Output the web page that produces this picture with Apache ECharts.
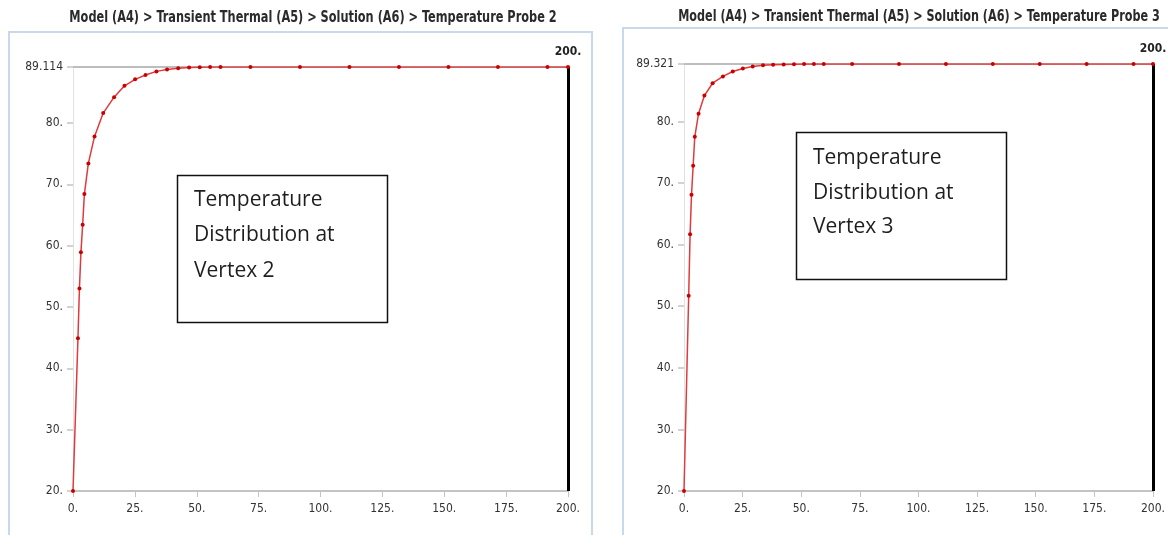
<!DOCTYPE html>
<html>
<head>
<meta charset="utf-8">
<script src="https://cdn.jsdelivr.net/npm/echarts@6/dist/echarts.min.js"></script>
<style>
html,body{margin:0;padding:0;background:#fff;}
#c{width:1168px;height:535px;}
</style>
</head>
<body>
<div id="c"></div>
<script>
// Time points (s) shared by both probes
var timeSteps = [0, 2.0, 2.6, 3.2, 3.9, 4.6, 6.2, 8.7, 12.2, 16.6, 20.8, 25.1, 29.3, 33.7, 38.0, 42.5, 46.9, 51.2, 55.4, 59.6, 71.7, 91.7, 111.7, 131.7, 151.7, 171.7, 191.7, 200];
// Temperature Probe 2 (Vertex 2)
var probe2Temp = [20, 44.9, 53.0, 58.9, 63.4, 68.4, 73.4, 77.8, 81.6, 84.2, 86.05, 87.1, 87.8, 88.4, 88.7, 88.9, 89.05, 89.09, 89.1, 89.11, 89.114, 89.114, 89.114, 89.114, 89.114, 89.114, 89.114, 89.114];
// Temperature Probe 3 (Vertex 3)
var probe3Temp = [20, 51.7, 61.7, 68.1, 72.8, 77.5, 81.25, 84.2, 86.2, 87.3, 88.1, 88.6, 88.9, 89.1, 89.2, 89.26, 89.29, 89.31, 89.32, 89.321, 89.321, 89.321, 89.321, 89.321, 89.321, 89.321, 89.321, 89.321];
var probe2Max = 89.114;
var probe3Max = 89.321;
var xTickMin = 0, xTickMax = 200, xTickStep = 25;
var yTickMin = 20, yTickStep = 10;
var titles = [
  'Model (A4) > Transient Thermal (A5) > Solution (A6) > Temperature Probe 2',
  'Model (A4) > Transient Thermal (A5) > Solution (A6) > Temperature Probe 3'
];
var noteTexts = ['Temperature\nDistribution at\nVertex 2', 'Temperature\nDistribution at\nVertex 3'];

var narrow = "'Liberation Sans Narrow', 'DejaVu Sans Condensed', 'Arial Narrow', sans-serif";
var noteFont = "'Open Sans', 'Noto Sans', sans-serif";

function pairs(xs, ys){ return xs.map(function(x,i){ return [x, ys[i]]; }); }
function fmtY(maxV){
  return function(v){
    if (Math.abs(v - maxV) < 1e-6) return String(maxV);
    return Math.round(v) + '.';
  };
}

var grids = [
  {left: 73, top: 67, width: 495, height: 424},
  {left: 684, top: 64, width: 481, height: 427}
];
var maxes = [probe2Max, probe3Max];
var datas = [pairs(timeSteps, probe2Temp), pairs(timeSteps, probe3Temp)];

function xAxisDef(i){
  return {
    type: 'value', gridIndex: i, min: xTickMin, max: xTickMax, interval: xTickStep,
    axisLine: {show: true, lineStyle: {color: '#c4c4c4', width: 2}},
    axisTick: {show: true, length: 6, lineStyle: {color: '#c4c4c4', width: 1}},
    axisLabel: {color: '#333', fontFamily: narrow, fontSize: 12, margin: 12,
      formatter: function(v){ return Math.round(v) + '.'; }},
    splitLine: {show: false}
  };
}
function yAxisDef(i){
  return {
    type: 'value', gridIndex: i, min: yTickMin, max: maxes[i], interval: yTickStep,
    axisLine: {show: true, lineStyle: {color: '#e2e2e2', width: 1}},
    axisTick: {show: true, length: 6, lineStyle: {color: '#c4c4c4', width: 1.5}},
    axisLabel: {color: '#333', fontFamily: narrow, fontSize: 12, margin: 10, formatter: fmtY(maxes[i])},
    splitLine: {show: false}
  };
}
function seriesDef(i){
  return {
    type: 'line', xAxisIndex: i, yAxisIndex: i, data: datas[i],
    symbol: 'circle', symbolSize: 4, showAllSymbol: true,
    lineStyle: {color: '#e03a3c', width: 1.5},
    itemStyle: {color: '#c80000'},
    z: 5,
    markLine: {
      silent: true, symbol: 'none', animation: false,
      data: [
        {yAxis: maxes[i], lineStyle: {color: '#bdbdbd', width: 2, type: 'solid'}, label: {show: false}},
        {xAxis: xTickMax, lineStyle: {color: '#000', width: 3, type: 'solid'},
          label: {show: true, position: 'end', formatter: xTickMax + '.', color: '#222',
            fontFamily: narrow, fontSize: 12, fontWeight: 'bold', distance: 9}}
      ]
    }
  };
}

var chart = echarts.init(document.getElementById('c'), null, {renderer: 'canvas'});
chart.setOption({
  animation: false,
  backgroundColor: '#fff',
  grid: grids,
  xAxis: [xAxisDef(0), xAxisDef(1)],
  yAxis: [yAxisDef(0), yAxisDef(1)],
  series: [seriesDef(0), seriesDef(1)],
  graphic: [
    {type: 'text', x: 313, y: 18, scaleX: 0.84,
      style: {text: titles[0], font: 'bold 15px ' + narrow, fill: '#2a2a2a', align: 'center', verticalAlign: 'middle'}, silent: true},
    {type: 'text', x: 919, y: 17, scaleX: 0.83,
      style: {text: titles[1], font: 'bold 15px ' + narrow, fill: '#2a2a2a', align: 'center', verticalAlign: 'middle'}, silent: true},
    {type: 'rect', shape: {x: 9, y: 32, width: 583, height: 520}, style: {fill: 'none', stroke: '#cad8ec', lineWidth: 2}, z: -1, silent: true},
    {type: 'rect', shape: {x: 623, y: 28, width: 560, height: 520}, style: {fill: 'none', stroke: '#cad8ec', lineWidth: 2}, z: -1, silent: true},
    {type: 'rect', shape: {x: 177.5, y: 175.5, width: 210, height: 147}, style: {fill: '#fff', stroke: '#111', lineWidth: 1.5}, z: 10, silent: true},
    {type: 'text', x: 194, y: 182, style: {text: noteTexts[0], font: '21px ' + noteFont, fill: '#1e1e1e', lineHeight: 35.5}, z: 11, silent: true},
    {type: 'rect', shape: {x: 796.5, y: 132.5, width: 210, height: 147}, style: {fill: '#fff', stroke: '#111', lineWidth: 1.5}, z: 10, silent: true},
    {type: 'text', x: 813, y: 141, style: {text: noteTexts[1], font: '21px ' + noteFont, fill: '#1e1e1e', lineHeight: 34.5}, z: 11, silent: true}
  ]
});
</script>
</body>
</html>
